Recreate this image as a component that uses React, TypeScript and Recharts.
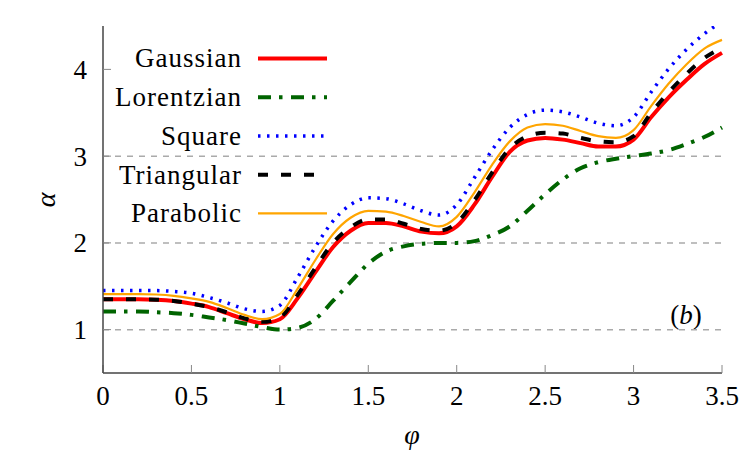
import { LineChart, Line, XAxis, YAxis, ReferenceLine } from 'recharts'

// sampling points along phi
const phi = [
  0, 0.1, 0.2, 0.3, 0.4, 0.5, 0.6, 0.7, 0.8, 0.9, 1.0, 1.1, 1.2, 1.3, 1.4, 1.5, 1.6, 1.7,
  1.8, 1.9, 2.0, 2.1, 2.2, 2.3, 2.4, 2.5, 2.6, 2.7, 2.8, 2.9, 3.0, 3.1, 3.2, 3.3, 3.4, 3.5,
]

const gaussian = [
  1.35, 1.35, 1.35, 1.345, 1.33, 1.3, 1.26, 1.19, 1.12, 1.075, 1.12, 1.36, 1.66, 1.95, 2.14, 2.23, 2.23, 2.19,
  2.13, 2.11, 2.19, 2.44, 2.76, 3.05, 3.18, 3.21, 3.19, 3.15, 3.11, 3.11, 3.19, 3.45, 3.68, 3.88, 4.06, 4.19,
]
const lorentzian = [
  1.21, 1.21, 1.21, 1.2, 1.19, 1.17, 1.14, 1.11, 1.07, 1.03, 1.0, 1.02, 1.12, 1.33, 1.55, 1.76, 1.9, 1.96,
  1.99, 2.0, 2.0, 2.02, 2.09, 2.19, 2.37, 2.56, 2.73, 2.86, 2.93, 2.97, 3.0, 3.03, 3.07, 3.14, 3.22, 3.33,
]
const square = [
  1.45, 1.45, 1.45, 1.45, 1.44, 1.42, 1.37, 1.31, 1.24, 1.21, 1.28, 1.6, 1.95, 2.25, 2.44, 2.52, 2.51, 2.45,
  2.37, 2.32, 2.44, 2.75, 3.07, 3.33, 3.48, 3.53, 3.51, 3.45, 3.38, 3.35, 3.45, 3.74, 4.01, 4.23, 4.41, 4.55,
]
const triangular = [
  1.35, 1.35, 1.35, 1.345, 1.33, 1.3, 1.26, 1.2, 1.13, 1.09, 1.14, 1.4, 1.71, 2.0, 2.18, 2.27, 2.27, 2.22,
  2.16, 2.14, 2.23, 2.49, 2.81, 3.09, 3.23, 3.27, 3.26, 3.21, 3.17, 3.16, 3.23, 3.5, 3.74, 3.95, 4.13, 4.25,
]
const parabolic = [
  1.41, 1.41, 1.41, 1.405, 1.39, 1.36, 1.32, 1.25, 1.17, 1.12, 1.18, 1.47, 1.8, 2.1, 2.29, 2.37, 2.36, 2.31,
  2.24, 2.19, 2.3, 2.58, 2.9, 3.17, 3.33, 3.37, 3.35, 3.29, 3.23, 3.21, 3.3, 3.58, 3.84, 4.06, 4.24, 4.34,
]

const xTicks = [0, 0.5, 1, 1.5, 2, 2.5, 3, 3.5]
const yTicks = [1, 2, 3, 4]
const gridLevels = [1, 2, 3]

const data = phi.map((p, i) => ({
  phi: p,
  gaussian: gaussian[i],
  lorentzian: lorentzian[i],
  square: square[i],
  triangular: triangular[i],
  parabolic: parabolic[i],
}))

const series = [
  { key: 'gaussian', name: 'Gaussian', color: '#ff0000', width: 4, dash: undefined },
  { key: 'lorentzian', name: 'Lorentzian', color: '#006400', width: 4, dash: '13 8 3.5 8.5' },
  { key: 'square', name: 'Square', color: '#0000ff', width: 3.5, dash: '2.5 6.5' },
  { key: 'triangular', name: 'Triangular', color: '#000000', width: 4, dash: '10 13' },
  { key: 'parabolic', name: 'Parabolic', color: '#ffa500', width: 2.2, dash: undefined },
]

const FONT = "'Liberation Serif', 'Times New Roman', serif"
const frame = '#444'
const tickStyle = { fontSize: 27, fill: '#000', fontFamily: FONT }

// key drawn straight into the chart svg, top-left inside the frame
function KeyBox() {
  const rowH = 38.75
  return (
    <g transform="translate(100 39)">
      {series.map((s, i) => {
        const cy = 19.4 + i * rowH
        return (
          <g key={s.key}>
            <text x={142} y={cy} textAnchor="end" dominantBaseline="central" fontSize={27} style={{ fontFamily: FONT }} letterSpacing={1} fill="#000">
              {s.name}
            </text>
            <line x1={158} x2={227} y1={cy} y2={cy} stroke={s.color} strokeWidth={s.width} strokeDasharray={s.dash} />
          </g>
        )
      })}
    </g>
  )
}

export default function App() {
  return (
    <div style={{ position: 'fixed', left: 0, top: 0, width: 750, height: 450, background: '#fff', fontFamily: FONT }}>
      <LineChart width={750} height={450} data={data} margin={{ top: 26, right: 28, left: 0, bottom: 0 }}>
        {gridLevels.map((v) => (
          <ReferenceLine key={v} y={v} stroke="#aaa" strokeWidth={1.5} strokeDasharray="6 6" />
        ))}
        <XAxis
          dataKey="phi"
          type="number"
          domain={[0, 3.5]}
          ticks={xTicks}
          height={77}
          stroke={frame}
          tick={tickStyle}
          tickSize={-8}
          tickMargin={21}
          tickLine={{ stroke: '#888' }}
          axisLine={{ stroke: frame, strokeWidth: 1.5 }}
        />
        <XAxis
          xAxisId="top"
          orientation="top"
          type="number"
          domain={[0, 3.5]}
          ticks={xTicks}
          height={0}
          tick={false}
          tickSize={-8}
          tickLine={{ stroke: '#888' }}
          axisLine={{ stroke: frame, strokeWidth: 1.5 }}
        />
        <YAxis
          type="number"
          domain={[0.5, 4.5]}
          ticks={yTicks}
          allowDataOverflow
          width={103}
          tick={tickStyle}
          tickSize={-8}
          tickMargin={24}
          tickLine={{ stroke: '#888' }}
          axisLine={{ stroke: frame, strokeWidth: 1.5 }}
        />
        <YAxis
          yAxisId="right"
          orientation="right"
          type="number"
          domain={[0.5, 4.5]}
          ticks={yTicks}
          width={0}
          tick={false}
          tickSize={-8}
          tickLine={{ stroke: '#888' }}
          axisLine={{ stroke: frame, strokeWidth: 1.5 }}
        />
        {series.map((s) => (
          <Line
            key={s.key}
            type="monotone"
            dataKey={s.key}
            name={s.name}
            stroke={s.color}
            strokeWidth={s.width}
            strokeDasharray={s.dash}
            dot={false}
            isAnimationActive={false}
          />
        ))}
        <KeyBox />
        <text x={45} y={200} transform="rotate(-90 45 200)" textAnchor="middle" dominantBaseline="central" fontSize={28} fontStyle="italic" style={{ fontFamily: FONT }}>
          α
        </text>
        <text x={412} y={444} textAnchor="middle" fontSize={28} fontStyle="italic" style={{ fontFamily: FONT }}>
          φ
        </text>
        <text x={686} y={324} textAnchor="middle" fontSize={27} style={{ fontFamily: FONT }}>
          (<tspan fontStyle="italic">b</tspan>)
        </text>
      </LineChart>
    </div>
  )
}
